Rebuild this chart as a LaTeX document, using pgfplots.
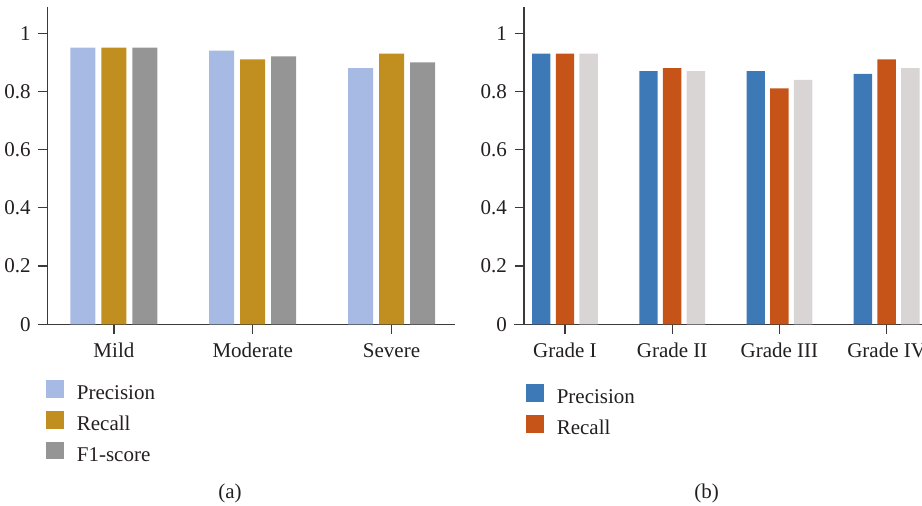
\documentclass[border=0pt]{standalone}
\usepackage{pgfplots}
\pgfplotsset{compat=1.18}
\usepackage{fontspec}
\setmainfont{Liberation Serif}
\definecolor{lblue}{HTML}{A7BAE3}
\definecolor{gold}{HTML}{C18F1F}
\definecolor{mgray}{HTML}{959595}
\definecolor{dblue}{HTML}{3D79B7}
\definecolor{orng}{HTML}{C65418}
\definecolor{lgray}{HTML}{D9D5D4}
\definecolor{axc}{HTML}{3A3A3A}
\definecolor{txt}{HTML}{231F20}
\pgfplotsset{mystyle/.style={
  scale only axis, ymin=0, ymax=1.091,
  axis x line*=bottom, axis y line*=left,
  axis line style={axc, line width=0.6pt, -},
  every outer x axis line/.append style={-},
  every outer y axis line/.append style={-},
  tick style={axc, line width=0.6pt},
  tick align=outside, major tick length=4.7pt,
  ytick={0,0.2,0.4,0.6,0.8,1},
  yticklabels={0,0.2,0.4,0.6,0.8,1},
  enlarge x limits=false, enlarge y limits=false,
  ybar,
  /pgf/number format/assume math mode=true,
  tick label style={font=\fontsize{10.5}{12}\selectfont, text=txt},
  xticklabel style={text height=7.5pt, text depth=2pt, yshift=-1.0pt},
  yticklabel style={xshift=-0.3pt},
  legend cell align=left,
  legend style={draw=none, fill=none, inner sep=0pt, outer sep=0pt,
    font=\fontsize{10.5}{12}\selectfont, text=txt, row sep=2.25pt,
    nodes={inner sep=1pt, text height=7.5pt, text depth=2.5pt},
    /tikz/every odd column/.append style={column sep=5.5pt}},
  legend image code/.code={\fill[#1] (0pt,-1.7pt) rectangle (8.9pt,7.2pt);},
}}
\begin{document}
\begin{tikzpicture}
\useasboundingbox (0,0) rectangle (461pt,-253pt);
\clip (0,0) rectangle (461pt,-253pt);
\begin{axis}[mystyle, name=L, at={(23.85pt,-162.15pt)}, anchor=south west,
  width=203.65pt, height=158.8pt, xmin=-0.477, xmax=2.457,
  xtick={0,1,2}, xticklabels={Mild,Moderate,Severe}, bar width=12.5pt,
  legend style={at={(axis description cs:-0.004,-0.175)}, anchor=north west}]
\addplot[fill=lblue, draw=none, bar shift=-15.5pt] coordinates {(0,0.95) (1,0.94) (2,0.88)};
\addlegendentry{Precision}
\addplot[fill=gold, draw=none, bar shift=0pt] coordinates {(0,0.95) (1,0.91) (2,0.93)};
\addlegendentry{Recall}
\addplot[fill=mgray, draw=none, bar shift=15.5pt] coordinates {(0,0.95) (1,0.92) (2,0.90)};
\addlegendentry{F1-score}
\end{axis}
\draw[axc, line width=0.6pt] (L.south west) -- ++(-4.5pt,0);
\begin{axis}[mystyle, name=R, at={(262pt,-162.15pt)}, anchor=south west,
  width=199pt, height=158.8pt, xmin=-0.382, xmax=3.33,
  xtick={0,1,2,3}, xticklabels={Grade I,Grade II,Grade III,Grade IV}, bar width=9.2pt,
  legend style={at={(axis description cs:0.005,-0.189)}, anchor=north west}]
\addplot[fill=dblue, draw=none, bar shift=-11.85pt] coordinates {(0,0.93) (1,0.87) (2,0.87) (3,0.86)};
\addlegendentry{Precision}
\addplot[fill=orng, draw=none, bar shift=0pt] coordinates {(0,0.93) (1,0.88) (2,0.81) (3,0.91)};
\addlegendentry{Recall}
\addplot[fill=lgray, draw=none, bar shift=11.85pt, forget plot] coordinates {(0,0.93) (1,0.87) (2,0.84) (3,0.88)};
\end{axis}
\draw[axc, line width=0.6pt] (R.south west) -- ++(-4.8pt,0);
\node[font=\fontsize{10.5}{12}\selectfont, text=txt] at (115pt,-246.5pt) {(a)};
\node[font=\fontsize{10.5}{12}\selectfont, text=txt] at (353.35pt,-246.5pt) {(b)};
\end{tikzpicture}
\end{document}
